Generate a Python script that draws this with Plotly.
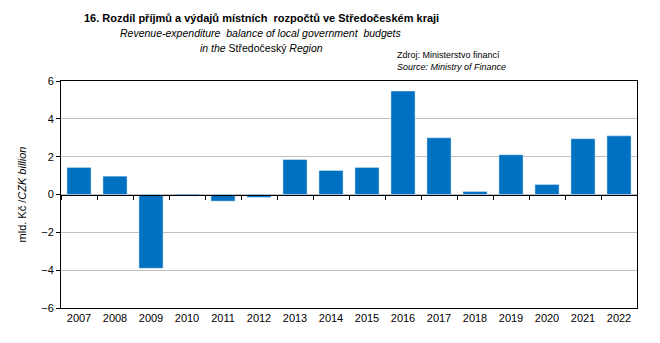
import plotly.graph_objects as go

years = ["2007", "2008", "2009", "2010", "2011", "2012", "2013", "2014",
         "2015", "2016", "2017", "2018", "2019", "2020", "2021", "2022"]
values = [1.43, 0.97, -3.90, -0.07, -0.35, -0.15, 1.85, 1.27,
          1.43, 5.47, 3.00, 0.16, 2.10, 0.53, 2.95, 3.10]
y_ticks = [-6, -4, -2, 0, 2, 4, 6]

FONT = "Liberation Sans, Arial"

fig = go.Figure()
fig.add_trace(go.Bar(x=years, y=values, marker=dict(color="#0070C0", line=dict(width=0)),
                     showlegend=False, hoverinfo="skip"))
# invisible helper trace for the zero-line axis with boundary ticks
fig.add_trace(go.Bar(x=years, y=values, xaxis="x2", yaxis="y",
                     marker=dict(color="rgba(0,0,0,0)"), showlegend=False, hoverinfo="skip"))

W, H = 660, 343
l, r, t, b = 61, 23, 81, 35
pw, ph = W - l - r, H - t - b

fig.update_layout(
    width=W, height=H,
    margin=dict(l=l, r=r, t=t, b=b),
    paper_bgcolor="white", plot_bgcolor="white",
    bargap=0.33,
    font=dict(family=FONT, size=11, color="black"),
    xaxis=dict(type="category", categoryorder="array", categoryarray=years,
               showline=True, linecolor="black", linewidth=1, mirror=True,
               ticks="", showgrid=False, zeroline=False,
               tickfont=dict(size=11), range=[-0.5, 15.5]),
    xaxis2=dict(type="category", categoryorder="array", categoryarray=years,
                overlaying="x", anchor="free", position=0.5,
                showline=True, linecolor="black", linewidth=1,
                ticks="outside", tickson="boundaries", ticklen=4, tickcolor="black",
                showticklabels=False, showgrid=False, zeroline=False,
                range=[-0.5, 15.5]),
    yaxis=dict(range=[-6, 6], tickvals=y_ticks, domain=[0, 1],
               showline=True, linecolor="black", linewidth=1, mirror=True,
               ticks="outside", ticklen=4, tickcolor="black",
               showgrid=True, gridcolor="#C0C0C0", gridwidth=1,
               zeroline=False, tickfont=dict(size=11),
               title=dict(text="mld. Kč /<i>CZK billion</i>", font=dict(size=11), standoff=12)),
)


def px_ann(text, x, y, size, xanchor="center"):
    fig.add_annotation(text=text, x=(x - l) / pw, y=((H - y) - b) / ph,
                       xref="paper", yref="paper", showarrow=False, xanchor=xanchor,
                       yanchor="middle", font=dict(family=FONT, size=size, color="black"))


px_ann("<b>16. Rozdíl příjmů a výdajů místních  rozpočtů ve Středočeském kraji</b>", 261, 18, 11)
px_ann("<i>Revenue-expenditure  balance of local government  budgets</i>", 261, 33, 10.5)
px_ann("<i>in the</i> Středočeský <i>Region</i>", 261, 48, 10.5)
px_ann("Zdroj: Ministerstvo financí", 395, 55, 9, xanchor="left")
px_ann("<i>Source: Ministry of Finance</i>", 395, 67, 9, xanchor="left")

fig.write_html("out.html")
